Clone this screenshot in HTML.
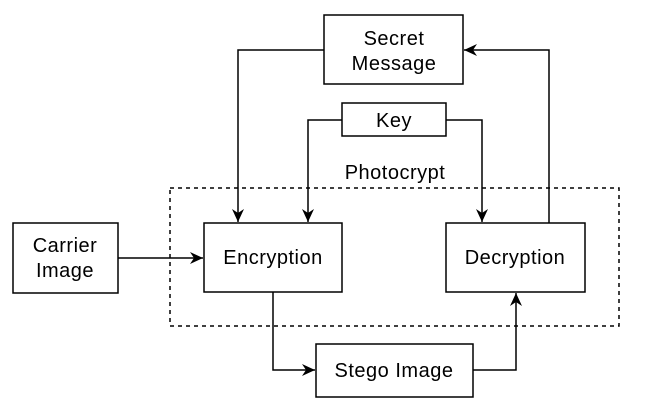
<!DOCTYPE html>
<html><head><meta charset="utf-8"><style>
html,body{margin:0;padding:0;background:#fff;width:655px;height:411px;overflow:hidden}
text{font-family:"Liberation Sans",sans-serif;font-size:20px;letter-spacing:0.5px;fill:#000}
</style></head><body>
<svg width="655" height="411" xmlns="http://www.w3.org/2000/svg">
<defs><marker id="a" markerWidth="14" markerHeight="14" refX="13" refY="7" orient="auto" markerUnits="userSpaceOnUse"><path d="M0,1 L13,7 L0,13 L4,7 z" fill="#000"/></marker></defs>
<g fill="none" stroke="#000" stroke-width="1.5">
<rect x="170" y="188" width="449" height="138" stroke-dasharray="4,4"/>
<rect x="324" y="15" width="139" height="69" fill="#fff"/>
<rect x="342" y="103" width="104" height="33" fill="#fff"/>
<rect x="13" y="223" width="105" height="70" fill="#fff"/>
<rect x="204" y="223" width="138" height="69" fill="#fff"/>
<rect x="446" y="223" width="139" height="69" fill="#fff"/>
<rect x="316" y="344" width="157" height="53" fill="#fff"/>
<polyline points="324,50 238,50 238,222" marker-end="url(#a)"/>
<polyline points="342,120 308,120 308,222" marker-end="url(#a)"/>
<polyline points="446,120 482,120 482,222" marker-end="url(#a)"/>
<polyline points="549,223 549,50 464,50" marker-end="url(#a)"/>
<polyline points="118,258 203,258" marker-end="url(#a)"/>
<polyline points="273,292 273,370 315,370" marker-end="url(#a)"/>
<polyline points="473,370 516,370 516,293" marker-end="url(#a)"/>
</g>
<g text-anchor="middle">
<text x="394" y="45">Secret</text><text x="394" y="70">Message</text>
<text x="394" y="127">Key</text>
<text x="395" y="179">Photocrypt</text>
<text x="65" y="252">Carrier</text><text x="65" y="277">Image</text>
<text x="273" y="264">Encryption</text>
<text x="515" y="264">Decryption</text>
<text x="394" y="377">Stego Image</text>
</g>
</svg>
</body></html>
